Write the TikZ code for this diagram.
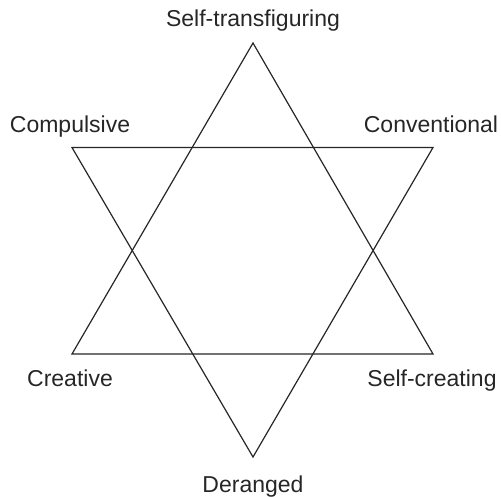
\documentclass[tikz,border=0pt]{standalone}
\usepackage{fontspec}
\setmainfont{Liberation Sans}
\begin{document}
\begin{tikzpicture}[x=1pt,y=-1pt,
  lbl/.style={anchor=base,inner sep=0pt,font=\fontsize{23}{27}\selectfont,text=black!85},
  tri/.style={draw=black!85,line width=1.2pt,line join=miter}]
\useasboundingbox (0,0) rectangle (501,497);
% upward triangle
\coordinate (ua) at (253,43);
\coordinate (ul) at (72,354);
\coordinate (ur) at (433,354);
% downward triangle
\coordinate (dl) at (72,147.5);
\coordinate (dr) at (433,147.5);
\coordinate (db) at (253,457);
\draw[tri] (ua) -- (ul) -- (ur) -- cycle;
\draw[tri] (dl) -- (dr) -- (db) -- cycle;
\node[lbl] (st) at (253,27) {Self-transfiguring};
\node[lbl] (cp) at (70,133) {Compulsive};
\node[lbl] (cv) at (431,133) {Conventional};
\node[lbl] (cr) at (70,386) {Creative};
\node[lbl] (sc) at (432,386) {Self-creating};
\node[lbl] (dg) at (253,492) {Deranged};
\end{tikzpicture}
\end{document}
